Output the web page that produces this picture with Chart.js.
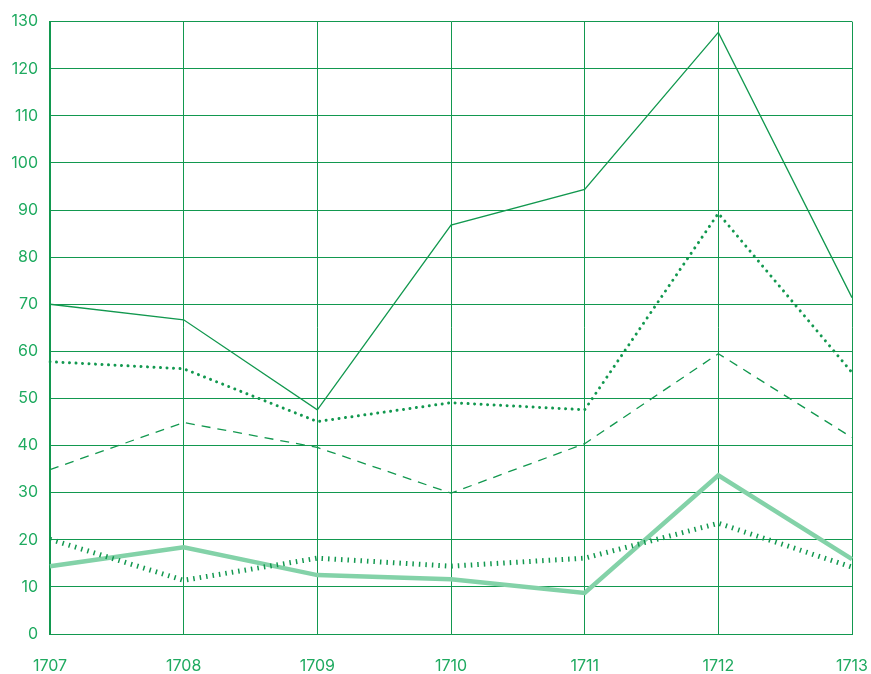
<!DOCTYPE html>
<html>
<head>
<meta charset="utf-8">
<script src="https://cdn.jsdelivr.net/npm/chart.js@4/dist/chart.umd.min.js"></script>
<style>
  html, body { margin: 0; padding: 0; background: #fff; }
  #wrap { width: 871px; height: 674px; }
</style>
</head>
<body>
<div id="wrap"><canvas id="c" width="871" height="674"></canvas></div>
<script>
var years = ['1707', '1708', '1709', '1710', '1711', '1712', '1713'];
var solidTop = [70, 66.7, 47.6, 86.8, 94.4, 127.7, 71.4];
var dottedUpper = [57.8, 56.3, 45.1, 49.1, 47.6, 89.3, 55.5];
var dashedMid = [34.9, 44.9, 39.6, 29.9, 40.4, 59.5, 41.7];
var thickLight = [14.4, 18.4, 12.5, 11.6, 8.7, 33.7, 15.9];
var dottedLower = [20.1, 11.4, 16.1, 14.4, 16.1, 23.5, 14.2];
var yTicks = [0, 10, 20, 30, 40, 50, 60, 70, 80, 90, 100, 110, 120, 130];

var GREEN = '#12984f';
var LIGHT = '#83d2a8';
var TEXT = '#1faa60';

function line(data, opts) {
  return Object.assign({
    data: data, borderColor: GREEN, borderWidth: 1.3, pointRadius: 0,
    tension: 0, fill: false
  }, opts);
}

new Chart(document.getElementById('c').getContext('2d'), {
  type: 'line',
  data: {
    labels: years,
    datasets: [
      line(solidTop, {}),
      line(dottedUpper, { borderWidth: 3, borderDash: [0.01, 6.5], borderCapStyle: 'round' }),
      line(dashedMid, { borderDash: [9, 7] }),
      line(dottedLower, { borderWidth: 5, borderDash: [1.5, 5] }),
      line(thickLight, { borderColor: LIGHT, borderWidth: 4.5 })
    ]
  },
  options: {
    responsive: false,
    animation: false,
    layout: { padding: { top: 20, right: 0, left: 0, bottom: 0 } },
    plugins: { legend: { display: false }, tooltip: { enabled: false } },
    scales: {
      x: {
        offset: false,
        grid: { color: GREEN, lineWidth: 1, drawTicks: false },
        border: { color: GREEN, width: 1 },
        ticks: { color: TEXT, font: { family: 'Inter', size: 16 }, padding: 23, maxRotation: 0 },
        afterFit: function (s) { s.height = 40; s.paddingRight = 19; s.paddingLeft = 0; }
      },
      y: {
        min: 0, max: 130,
        afterBuildTicks: function (s) { s.ticks = yTicks.map(function (v) { return { value: v }; }); },
        grid: { color: GREEN, lineWidth: 1, drawTicks: false },
        border: { color: GREEN, width: 2 },
        ticks: { color: TEXT, font: { family: 'Inter', size: 16 }, padding: 12 },
        afterFit: function (s) { s.width = 50; }
      }
    }
  }
});
</script>
</body>
</html>
